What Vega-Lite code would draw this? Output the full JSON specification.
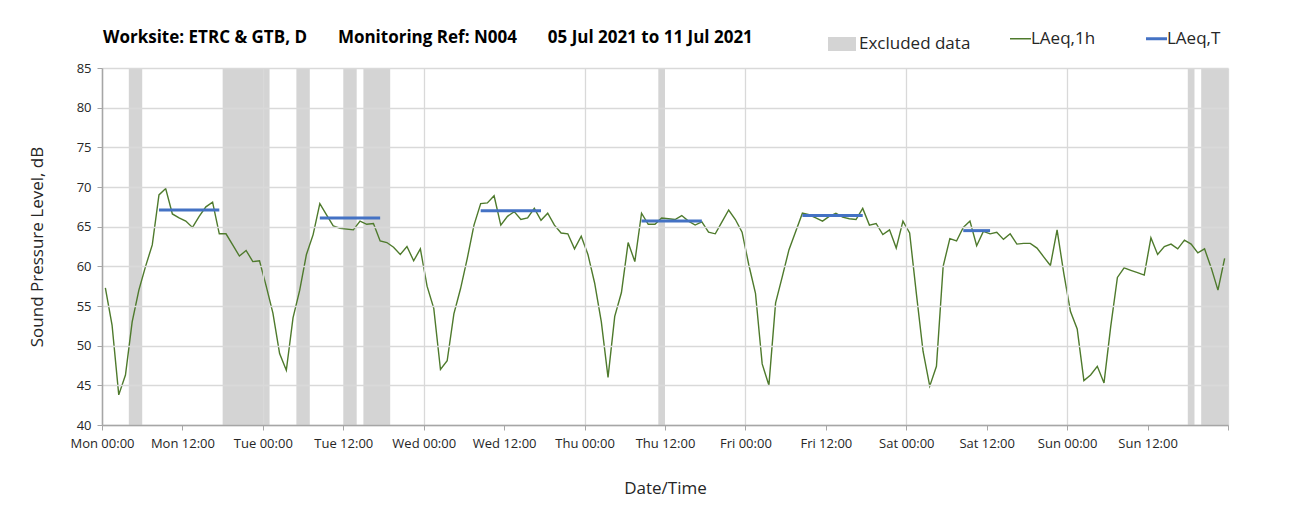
{
  "$schema": "https://vega.github.io/schema/vega-lite/v6.json",
  "autosize": {"type": "none"},
  "width": 1126,
  "height": 357,
  "padding": {"left": 102, "top": 68, "right": 67, "bottom": 101},
  "background": "white",
  "title": {
    "text": "Worksite: ETRC & GTB, D\u00a0\u00a0\u00a0\u00a0\u00a0\u00a0\u00a0Monitoring Ref: N004\u00a0\u00a0\u00a0\u00a0\u00a0\u00a0\u00a005 Jul 2021 to 11 Jul 2021",
    "anchor": "start", "frame": "group", "font": "Open Sans", "fontSize": 17, "fontWeight": "bold", "color": "#000000", "offset": 24, "dx": 1, "dy": 41
  },
  "config": {
    "view": {"stroke": null},
    "font": "Open Sans",
    "axisY": {"values": [40, 45, 50, 55, 60, 65, 70, 75, 80, 85], "labelOverlap": false}
  },
  "datasets": {
    "bands": [
      {"start": 4, "end": 6}, {"start": 18, "end": 25}, {"start": 29, "end": 31}, {"start": 36, "end": 38},
      {"start": 39, "end": 43}, {"start": 83, "end": 84}, {"start": 162, "end": 163}, {"start": 164, "end": 168}
    ],
    "leqT": [
      {"start": 8.5, "end": 17.5, "v": 67.1}, {"start": 32.5, "end": 41.5, "v": 66.1}, {"start": 56.5, "end": 65.5, "v": 67.0},
      {"start": 80.5, "end": 89.5, "v": 65.7}, {"start": 104.5, "end": 113.5, "v": 66.4}, {"start": 128.5, "end": 132.5, "v": 64.5}
    ],
    "leq1h": [
      {"t":0.5,"v":57.3},{"t":1.5,"v":52.6},{"t":2.5,"v":43.8},{"t":3.5,"v":46.3},{"t":4.5,"v":53.0},{"t":5.5,"v":57.0},
      {"t":6.5,"v":60.0},{"t":7.5,"v":62.7},{"t":8.5,"v":69.0},{"t":9.5,"v":69.8},{"t":10.5,"v":66.6},{"t":11.5,"v":66.1},
      {"t":12.5,"v":65.7},{"t":13.5,"v":64.9},{"t":14.5,"v":66.3},{"t":15.5,"v":67.5},{"t":16.5,"v":68.1},{"t":17.5,"v":64.1},
      {"t":18.5,"v":64.1},{"t":19.5,"v":62.7},{"t":20.5,"v":61.3},{"t":21.5,"v":62.0},{"t":22.5,"v":60.6},{"t":23.5,"v":60.7},
      {"t":24.5,"v":57.5},{"t":25.5,"v":54.1},{"t":26.5,"v":49.0},{"t":27.5,"v":46.9},{"t":28.5,"v":53.5},{"t":29.5,"v":57.0},
      {"t":30.5,"v":61.5},{"t":31.5,"v":64.0},{"t":32.5,"v":67.9},{"t":33.5,"v":66.5},{"t":34.5,"v":65.1},{"t":35.5,"v":64.8},
      {"t":36.5,"v":64.7},{"t":37.5,"v":64.6},{"t":38.5,"v":65.7},{"t":39.5,"v":65.3},{"t":40.5,"v":65.4},{"t":41.5,"v":63.2},
      {"t":42.5,"v":63.0},{"t":43.5,"v":62.4},{"t":44.5,"v":61.5},{"t":45.5,"v":62.5},{"t":46.5,"v":60.7},{"t":47.5,"v":62.2},
      {"t":48.5,"v":57.5},{"t":49.5,"v":54.7},{"t":50.5,"v":47.0},{"t":51.5,"v":48.1},{"t":52.5,"v":54.0},{"t":53.5,"v":57.2},
      {"t":54.5,"v":61.0},{"t":55.5,"v":65.2},{"t":56.5,"v":67.9},{"t":57.5,"v":68.0},{"t":58.5,"v":68.9},{"t":59.5,"v":65.2},
      {"t":60.5,"v":66.3},{"t":61.5,"v":66.9},{"t":62.5,"v":65.9},{"t":63.5,"v":66.1},{"t":64.5,"v":67.3},{"t":65.5,"v":65.8},
      {"t":66.5,"v":66.7},{"t":67.5,"v":65.2},{"t":68.5,"v":64.2},{"t":69.5,"v":64.1},{"t":70.5,"v":62.2},{"t":71.5,"v":63.8},
      {"t":72.5,"v":61.5},{"t":73.5,"v":57.9},{"t":74.5,"v":53.0},{"t":75.5,"v":46.0},{"t":76.5,"v":53.7},{"t":77.5,"v":56.7},
      {"t":78.5,"v":63.0},{"t":79.5,"v":60.6},{"t":80.5,"v":66.7},{"t":81.5,"v":65.3},{"t":82.5,"v":65.3},{"t":83.5,"v":66.1},
      {"t":84.5,"v":66.0},{"t":85.5,"v":65.9},{"t":86.5,"v":66.4},{"t":87.5,"v":65.7},{"t":88.5,"v":65.2},{"t":89.5,"v":65.6},
      {"t":90.5,"v":64.3},{"t":91.5,"v":64.1},{"t":92.5,"v":65.6},{"t":93.5,"v":67.1},{"t":94.5,"v":65.9},{"t":95.5,"v":64.3},
      {"t":96.5,"v":60.2},{"t":97.5,"v":56.6},{"t":98.5,"v":47.7},{"t":99.5,"v":45.0},{"t":100.5,"v":55.4},{"t":101.5,"v":58.7},
      {"t":102.5,"v":62.1},{"t":103.5,"v":64.4},{"t":104.5,"v":66.7},{"t":105.5,"v":66.5},{"t":106.5,"v":66.1},{"t":107.5,"v":65.7},
      {"t":108.5,"v":66.3},{"t":109.5,"v":66.7},{"t":110.5,"v":66.2},{"t":111.5,"v":66.0},{"t":112.5,"v":65.9},{"t":113.5,"v":67.3},
      {"t":114.5,"v":65.2},{"t":115.5,"v":65.4},{"t":116.5,"v":64.0},{"t":117.5,"v":64.6},{"t":118.5,"v":62.3},{"t":119.5,"v":65.7},
      {"t":120.5,"v":64.2},{"t":121.5,"v":56.6},{"t":122.5,"v":49.3},{"t":123.5,"v":44.9},{"t":124.5,"v":47.4},{"t":125.5,"v":60.0},
      {"t":126.5,"v":63.5},{"t":127.5,"v":63.2},{"t":128.5,"v":64.9},{"t":129.5,"v":65.7},{"t":130.5,"v":62.6},{"t":131.5,"v":64.4},
      {"t":132.5,"v":64.1},{"t":133.5,"v":64.3},{"t":134.5,"v":63.4},{"t":135.5,"v":64.1},{"t":136.5,"v":62.8},{"t":137.5,"v":62.9},
      {"t":138.5,"v":62.9},{"t":139.5,"v":62.3},{"t":140.5,"v":61.2},{"t":141.5,"v":60.1},{"t":142.5,"v":64.6},{"t":143.5,"v":59.1},
      {"t":144.5,"v":54.3},{"t":145.5,"v":52.1},{"t":146.5,"v":45.6},{"t":147.5,"v":46.3},{"t":148.5,"v":47.4},{"t":149.5,"v":45.3},
      {"t":150.5,"v":52.4},{"t":151.5,"v":58.6},{"t":152.5,"v":59.8},{"t":153.5,"v":59.5},{"t":154.5,"v":59.2},{"t":155.5,"v":58.9},
      {"t":156.5,"v":63.6},{"t":157.5,"v":61.5},{"t":158.5,"v":62.5},{"t":159.5,"v":62.8},{"t":160.5,"v":62.2},{"t":161.5,"v":63.3},
      {"t":162.5,"v":62.8},{"t":163.5,"v":61.7},{"t":164.5,"v":62.2},{"t":165.5,"v":59.8},{"t":166.5,"v":57.0},{"t":167.5,"v":61.0}
    ]
  },
  "layer": [
    {
      "data": {"name": "bands"},
      "mark": {"type": "rect", "opacity": 1},
      "encoding": {
        "x": {
          "field": "start", "type": "quantitative",
          "scale": {"domain": [0, 168], "nice": false, "zero": false},
          "axis": {
            "zindex": 1,
            "values": [0, 12, 24, 36, 48, 60, 72, 84, 96, 108, 120, 132, 144, 156, 168],
            "labelExpr": "datum.value >= 168 ? '' : ['Mon','Tue','Wed','Thu','Fri','Sat','Sun'][floor(datum.value / 24)] + (datum.value % 24 == 0 ? ' 00:00' : ' 12:00')",
            "title": "Date/Time",
            "titleFont": "Open Sans", "titleFontSize": 17, "titleFontWeight": "normal", "titleColor": "#262626", "titlePadding": 30,
            "labelFont": "Open Sans", "labelFontSize": 13, "labelColor": "#262626", "labelPadding": 7, "labelFlush": false, "labelOverlap": false,
            "domainColor": "#a6a6a6", "domainWidth": 1.5, "tickColor": "#a6a6a6", "tickSize": 5,
            "gridColor": "#d9d9d9", "gridWidth": 1.3,
            "gridOpacity": {"condition": {"test": "datum.value % 24 == 0", "value": 1}, "value": 0}
          }
        },
        "x2": {"field": "end"},
        "fill": {
          "datum": "Excluded data", "type": "nominal",
          "scale": {"domain": ["Excluded data"], "range": ["#d4d4d4"]},
          "legend": {
            "orient": "none", "legendX": 726, "legendY": -38, "direction": "horizontal", "title": null,
            "labelFont": "Open Sans", "labelFontSize": 17, "labelColor": "#262626", "labelOffset": 3,
            "symbolType": "M-1,-0.5H1V0.5H-1Z", "symbolSize": 784, "symbolStrokeWidth": 0, "symbolOpacity": 1
          }
        }
      }
    },
    {
      "data": {"name": "leq1h"},
      "mark": {"type": "line", "strokeWidth": 1.4, "interpolate": "linear"},
      "encoding": {
        "x": {"field": "t", "type": "quantitative"},
        "y": {
          "field": "v", "type": "quantitative",
          "scale": {"domain": [40, 85], "nice": false, "zero": false},
          "axis": {
            "zindex": 1,
            "values": [40, 45, 50, 55, 60, 65, 70, 75, 80, 85],
            "title": "Sound Pressure Level, dB",
            "titleFont": "Open Sans", "titleFontSize": 17, "titleFontWeight": "normal", "titleColor": "#262626", "titlePadding": 30,
            "labelFont": "Open Sans", "labelFontSize": 13, "labelColor": "#262626", "labelPadding": 6, "labelOverlap": false,
            "domainColor": "#a6a6a6", "domainWidth": 1.5, "tickColor": "#a6a6a6", "tickSize": 5,
            "gridColor": "#d9d9d9", "gridWidth": 1.3
          }
        },
        "stroke": {
          "datum": "LAeq,1h", "type": "nominal",
          "scale": {"domain": ["LAeq,1h", "LAeq,T"], "range": ["#4e7a2c", "#4472c4"]},
          "legend": {
            "orient": "none", "legendX": 910, "legendY": -38, "direction": "horizontal", "title": null,
            "labelFont": "Open Sans", "labelFontSize": 17, "labelColor": "#262626", "labelOffset": 2,
            "symbolType": "stroke", "symbolSize": 441, "symbolStrokeWidth": 2, "columnPadding": 44,
            "encode": {
              "symbols": {
                "update": {
                  "strokeWidth": {"signal": "datum.value === 'LAeq,T' ? 3 : 1.5"}
                }
              }
            }
          }
        }
      }
    },
    {
      "data": {"name": "leqT"},
      "mark": {"type": "rule", "strokeWidth": 3},
      "encoding": {
        "x": {"field": "start", "type": "quantitative"},
        "x2": {"field": "end"},
        "y": {
          "field": "v", "type": "quantitative",
          "axis": {
            "zindex": 1,
            "values": [40, 45, 50, 55, 60, 65, 70, 75, 80, 85],
            "title": "Sound Pressure Level, dB",
            "titleFont": "Open Sans", "titleFontSize": 17, "titleFontWeight": "normal", "titleColor": "#262626", "titlePadding": 30,
            "labelFont": "Open Sans", "labelFontSize": 13, "labelColor": "#262626", "labelPadding": 6, "labelOverlap": false,
            "domainColor": "#a6a6a6", "domainWidth": 1.5, "tickColor": "#a6a6a6", "tickSize": 5,
            "gridColor": "#d9d9d9", "gridWidth": 1.3
          }
        },
        "stroke": {"datum": "LAeq,T", "type": "nominal"}
      }
    }
  ]
}
